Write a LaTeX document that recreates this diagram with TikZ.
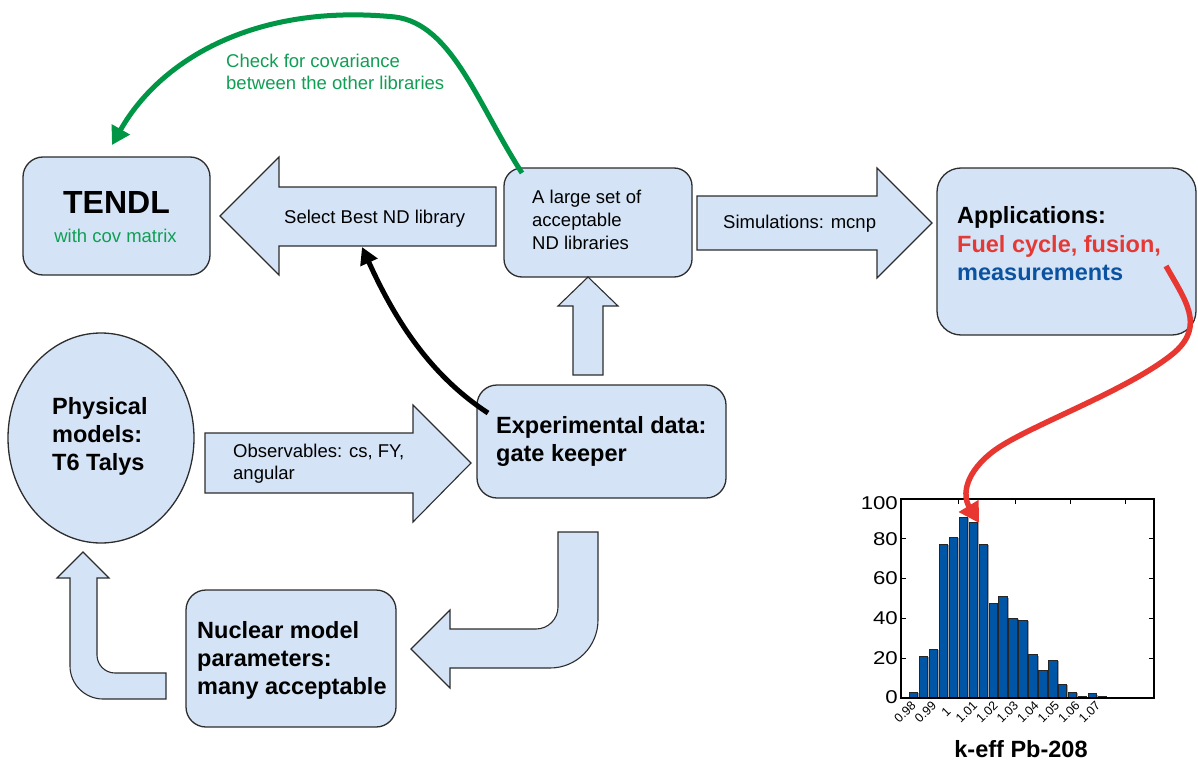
\documentclass[tikz,border=0pt]{standalone}
\usepackage{fontspec}
\setmainfont{Liberation Sans}
\usetikzlibrary{arrows.meta,shapes.geometric}
\definecolor{boxfill}{RGB}{212,228,246}
\definecolor{boxline}{RGB}{45,45,45}
\definecolor{tgreen}{RGB}{16,158,84}
\definecolor{agreen}{RGB}{0,150,70}
\definecolor{tred}{RGB}{229,57,53}
\definecolor{ared}{RGB}{232,54,48}
\definecolor{tblue}{RGB}{11,83,160}
\definecolor{barblue}{RGB}{0,86,166}
\newcommand\myreg{\fontsize{18.5pt}{22.5pt}\selectfont}
\newcommand\mybold{\fontsize{23.5pt}{28.5pt}\selectfont\bfseries}
\begin{document}
\begin{tikzpicture}[x=1pt,y=-1pt,
  box/.style={draw=boxline, fill=boxfill, line width=1.3pt, rounded corners=20pt, inner sep=0pt},
  barrow/.style={draw=boxline, fill=boxfill, line width=1.1pt, line join=miter},
  txt/.style={inner sep=0pt, anchor=base west, font=\myreg},
  btxt/.style={inner sep=0pt, anchor=base west, font=\mybold},
  hbar/.style={fill=barblue, draw=black!85, line width=0.8pt},
  curvearrow/.style={line width=5pt},
]
\useasboundingbox (0,0) rectangle (1198,762);

% ---------- boxes ----------
\node[box, minimum width=187pt, minimum height=118pt] (tendl) at (116.5,216) {};
\node[box, rounded corners=18pt, minimum width=188pt, minimum height=109pt] (ndlib) at (598,222.5) {};
\node[box, rounded corners=24pt, minimum width=259pt, minimum height=167pt] (app) at (1066.5,251.5) {};
\node[box, minimum width=249pt, minimum height=113pt] (exp) at (601.5,441.5) {};
\node[box, minimum width=210pt, minimum height=137pt] (nuc) at (291,658.5) {};
\node[draw=boxline, fill=boxfill, line width=1.3pt, ellipse, inner sep=0pt,
      minimum width=186pt, minimum height=210pt] (phys) at (101,438) {};

% ---------- block arrows ----------
\draw[barrow] (220,216) -- (279,157) -- (279,187) -- (496,187) -- (496,246)
  -- (279,246) -- (279,275) -- cycle;
\draw[barrow] (697,196) -- (877,196) -- (877,168) -- (932,223) -- (877,278)
  -- (877,250) -- (697,250) -- cycle;
\draw[barrow] (205,433) -- (413,433) -- (413,405) -- (471,463) -- (413,522)
  -- (413,493) -- (205,493) -- cycle;
\draw[barrow] (573,375) -- (573,306) -- (558,306) -- (588,277) -- (618,306)
  -- (603,306) -- (603,375) -- cycle;
\draw[barrow] (558,532) -- (598,532) -- (598,620)
  .. controls (598,646.5) and (576.5,668) .. (550,668) -- (450,668) -- (450,688)
  -- (411,649) -- (450,610) -- (450,629) -- (536,629)
  .. controls (548.1,629) and (558,619.1) .. (558,607) -- cycle;
\draw[barrow] (83,552) -- (109,578) -- (97,578) -- (97,655)
  .. controls (97,664.9) and (105.1,673) .. (115,673) -- (166,673) -- (166,699)
  -- (103,699) .. controls (84.8,699) and (70,684.2) .. (70,666) -- (70,578)
  -- (57,578) -- cycle;

% ---------- texts ----------
\node[inner sep=0pt, anchor=base, font=\fontsize{32pt}{36pt}\selectfont\bfseries] (tendlT) at (116.5,213) {TENDL};
\node[txt, anchor=base, text=tgreen] (tendlC) at (115.5,242) {with cov matrix};
\node[txt] (selT) at (284,223) {Select Best ND library};
\node[txt] (nd1) at (532,204) {A large set of};
\node[txt] (nd2) at (532,226.5) {acceptable};
\node[txt] (nd3) at (532,249) {ND libraries};
\node[txt] (simT) at (723,228) {Simulations: mcnp};
\node[btxt] (app1) at (957,223) {Applications:};
\node[btxt, text=tred] (app2) at (957,252) {Fuel cycle, fusion,};
\node[btxt, text=tblue] (app3) at (957,280) {measurements};
\node[btxt] (exp1) at (496,433) {Experimental data:};
\node[btxt] (exp2) at (496,461) {gate keeper};
\node[btxt] (ph1) at (52,414) {Physical};
\node[btxt] (ph2) at (52,442) {models:};
\node[btxt] (ph3) at (52,470) {T6 Talys};
\node[txt] (ob1) at (233,457) {Observables: cs, FY,};
\node[txt] (ob2) at (233,479) {angular};
\node[btxt] (nu1) at (197,638) {Nuclear model};
\node[btxt] (nu2) at (197,666) {parameters:};
\node[btxt] (nu3) at (197,694) {many acceptable};
\node[txt, text=tgreen] (cov1) at (226,68) {Check for covariance};
\node[txt, text=tgreen] (cov2) at (226,90) {between the other libraries};

% ---------- histogram ----------
\foreach \v [count=\i from 0] in {3.0,21.1,24.5,77.4,80.9,91,88.4,77.4,47.7,51.1,40.2,39.2,21.8,14.1,19.1,7.0,3.0,1.0,2.2,1.0}{
  \pgfmathsetmacro\xl{909.3+9.95*\i}
  \pgfmathsetmacro\yt{698-1.99*\v}
  \fill[black!35] ({\xl+1.6},{\yt+1.2}) rectangle ({\xl+9.9},698);
  \draw[hbar] (\xl,\yt) rectangle ({\xl+8.3},698);
}
\node[draw=black, line width=1.4pt, inner sep=0pt, minimum width=253pt, minimum height=199pt] (hist) at (1027.5,598.5) {};
\foreach \t in {20,40,60,80}{
  \draw[line width=1pt] (901,{698-1.99*\t}) -- (906,{698-1.99*\t});
  \draw[line width=1pt] (1154,{698-1.99*\t}) -- (1149,{698-1.99*\t});
}
\foreach \xt in {958,1015,1070,1125}{
  \draw[line width=1pt] (\xt,499) -- (\xt,504);
}
\foreach \t/\yy in {0/697,20/658.2,40/618.4,60/578.6,80/538.8,100/503}{
  \node[inner sep=0pt, anchor=east, font=\fontsize{18.5pt}{20pt}\selectfont] at (898,\yy) {\scalebox{1.2}[1]{\t}};
}
\foreach \l [count=\k from 0] in {0.98,0.99,1,1.01,1.02,1.03,1.04,1.05,1.06,1.07}{
  \node[rotate=45, inner sep=0pt, font=\fontsize{12.5pt}{13pt}\selectfont] at ({905+20.5*\k},712) {\l};
}
\node[inner sep=0pt, anchor=base, font=\mybold] (histT) at (1021,757) {k-eff Pb-208};

% ---------- curved arrows ----------
\coordinate (gs) at (522,173);
\coordinate (ge) at (112,145);
\draw[agreen, curvearrow, -{Triangle[length=18pt,width=20pt]}] (gs)
  .. controls (478,105) and (452,24) .. (395,17)
  .. controls (255,3) and (160,60) .. (ge);
\coordinate (bs) at (488,413);
\coordinate (be) at (362,247);
\draw[black, curvearrow, -{Triangle[length=17pt,width=18pt]}] (bs)
  .. controls (430,375) and (395,320) .. (be);
\coordinate (rs) at (1166,266);
\coordinate (re) at (979,523);
\draw[ared, line width=5.5pt, -{Triangle[length=20pt,width=22pt]}] (rs)
  .. controls (1185,300) and (1205,325) .. (1175,352)
  .. controls (1130,390) and (1030,425) .. (995,450)
  .. controls (965,472) and (962,495) .. (re);
\end{tikzpicture}
\end{document}
